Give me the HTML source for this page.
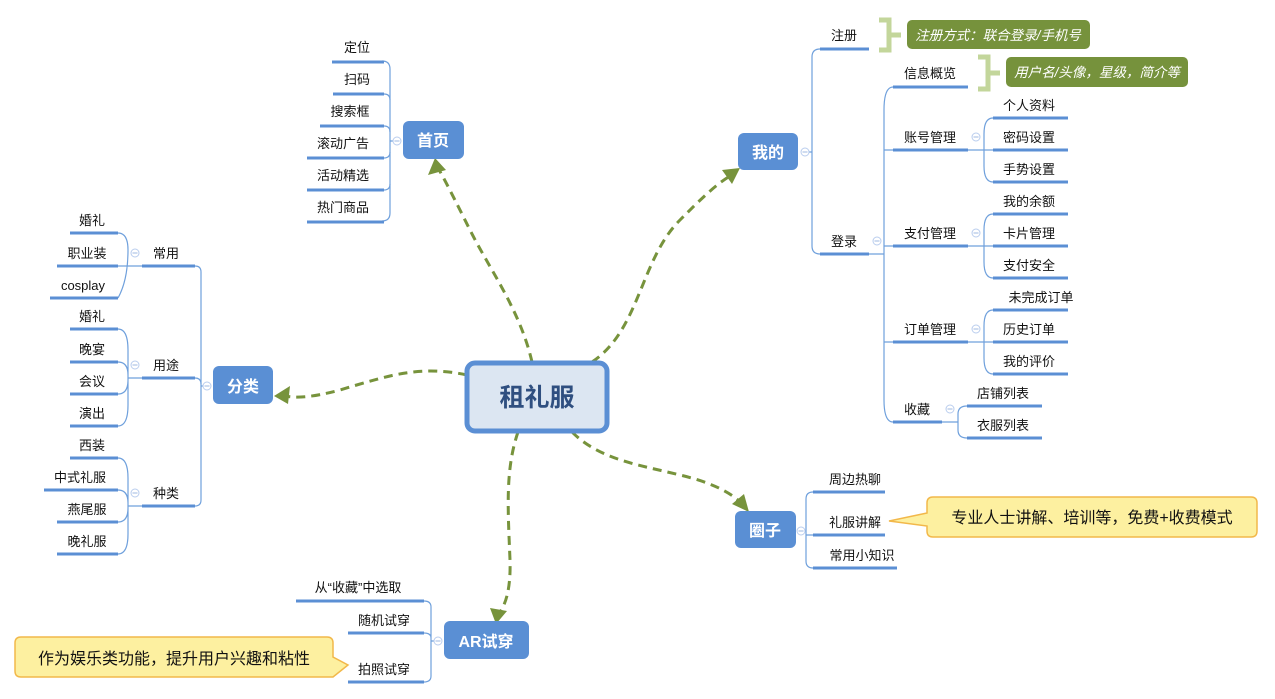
<!DOCTYPE html>
<html><head><meta charset="utf-8"><style>
html,body{margin:0;padding:0;background:#fff;}
svg{display:block;font-family:"Liberation Sans","Noto Sans CJK SC",sans-serif;}
.u{stroke:#5b8fd4;stroke-width:3;fill:none}
.c{stroke:#6fa0dc;stroke-width:1.2;fill:none}
.t{font-size:13px;fill:#111;text-anchor:middle}
.d{stroke:#77933c;stroke-width:3;fill:none;stroke-dasharray:9,6}
.ar{fill:#77933c}
.b{fill:#5a8fd4}
.bt{font-size:16px;font-weight:bold;fill:#fff;text-anchor:middle}
.o{fill:#fff;stroke:#b9cdee;stroke-width:1}
.m{stroke:#9fb8e0;stroke-width:1}
</style></head><body>
<svg width="1275" height="699" viewBox="0 0 1275 699">
<defs><g id="mn"><circle class="o" cx="0" cy="0" r="4"/><line class="m" x1="-2.5" y1="0" x2="2.5" y2="0"/></g></defs>
<!-- dashed connectors -->
<path class="d" d="M532,362 C520,310 490,270 470,230 C455,200 445,180 438,168"/>
<polygon class="ar" points="435,158 428,175 446,170"/>
<path class="d" d="M592,362 C640,330 640,260 680,220 C700,200 715,185 730,176"/>
<polygon class="ar" points="740,168 722,170 732,184"/>
<path class="d" d="M467,375 C420,365 390,375 340,390 C310,398 295,398 285,396"/>
<polygon class="ar" points="274,396 290,386 288,404"/>
<path class="d" d="M518,432 C505,470 508,510 510,560 C511,590 505,605 500,612"/>
<polygon class="ar" points="496,624 490,608 507,611"/>
<path class="d" d="M572,432 C600,460 640,465 680,475 C710,482 730,492 740,502"/>
<polygon class="ar" points="749,512 732,504 744,494"/>

<!-- central -->
<rect x="467" y="363" width="140" height="68" rx="8" fill="#dce6f2" stroke="#5b8fd4" stroke-width="5"/>
<text x="537" y="406" font-size="25" font-weight="bold" fill="#2f4f80" text-anchor="middle">租礼服</text>

<!-- 首页 -->
<rect class="b" x="403" y="121" width="61" height="38" rx="6"/>
<text class="bt" x="433" y="146">首页</text>
<path class="c" d="M382,61 Q390,61 390,69 L390,213 Q390,221 382,221 M390,141 L393,141"/>
<use href="#mn" x="397" y="141"/>
<line class="u" x1="332" y1="62" x2="384" y2="62"/><text class="t" x="357" y="52">定位</text>
<line class="u" x1="333" y1="94" x2="384" y2="94"/><text class="t" x="357" y="84">扫码</text>
<line class="u" x1="320" y1="126" x2="384" y2="126"/><text class="t" x="350" y="116">搜索框</text>
<line class="u" x1="307" y1="158" x2="384" y2="158"/><text class="t" x="343" y="148">滚动广告</text>
<line class="u" x1="307" y1="190" x2="384" y2="190"/><text class="t" x="343" y="180">活动精选</text>
<line class="u" x1="307" y1="222" x2="384" y2="222"/><text class="t" x="343" y="212">热门商品</text>
<path class="c" d="M384,94 Q390,94 390,100 M384,126 Q390,126 390,132 M384,158 Q390,158 390,152 M384,190 Q390,190 390,184"/>

<!-- 分类 -->
<rect class="b" x="213" y="366" width="60" height="38" rx="6"/>
<text class="bt" x="243" y="392">分类</text>
<path class="c" d="M195,266 Q201,266 201,272 L201,500 Q201,506 195,506 M201,386 L203,386"/>
<use href="#mn" x="207" y="386"/>
<line class="u" x1="142" y1="266" x2="195" y2="266"/><text class="t" x="166" y="258">常用</text>
<line class="u" x1="142" y1="378" x2="195" y2="378"/><text class="t" x="166" y="370">用途</text>
<path class="c" d="M195,378 Q201,378 201,384"/>
<line class="u" x1="142" y1="506" x2="195" y2="506"/><text class="t" x="166" y="498">种类</text>
<use href="#mn" x="135" y="253"/><use href="#mn" x="135" y="365"/><use href="#mn" x="135" y="493"/>
<path class="c" d="M118,233 Q128,233 128,250 Q128,280 118,298 M118,266 L142,266"/>
<path class="c" d="M118,329 Q128,329 128,350 L128,405 Q128,426 118,426 M118,362 Q128,362 128,375 M118,394 Q128,394 128,380 M128,378 L142,378"/>
<path class="c" d="M118,458 Q128,458 128,478 L128,534 Q128,554 118,554 M118,490 Q128,490 128,503 M118,522 Q128,522 128,508 M128,506 L142,506"/>
<line class="u" x1="70" y1="233" x2="118" y2="233"/><text class="t" x="92" y="225">婚礼</text>
<line class="u" x1="57" y1="266" x2="118" y2="266"/><text class="t" x="87" y="258">职业装</text>
<line class="u" x1="50" y1="298" x2="118" y2="298"/><text class="t" x="83" y="290">cosplay</text>
<line class="u" x1="70" y1="329" x2="118" y2="329"/><text class="t" x="92" y="321">婚礼</text>
<line class="u" x1="70" y1="362" x2="118" y2="362"/><text class="t" x="92" y="354">晚宴</text>
<line class="u" x1="70" y1="394" x2="118" y2="394"/><text class="t" x="92" y="386">会议</text>
<line class="u" x1="70" y1="426" x2="118" y2="426"/><text class="t" x="92" y="418">演出</text>
<line class="u" x1="70" y1="458" x2="118" y2="458"/><text class="t" x="92" y="450">西装</text>
<line class="u" x1="44" y1="490" x2="118" y2="490"/><text class="t" x="80" y="482">中式礼服</text>
<line class="u" x1="57" y1="522" x2="118" y2="522"/><text class="t" x="87" y="514">燕尾服</text>
<line class="u" x1="57" y1="554" x2="118" y2="554"/><text class="t" x="87" y="546">晚礼服</text>

<!-- 我的 -->
<rect class="b" x="738" y="133" width="60" height="37" rx="6"/>
<text class="bt" x="768" y="158">我的</text>
<path class="c" d="M820,49 Q812,49 812,57 L812,246 Q812,254 820,254 M809,152 L812,152"/>
<use href="#mn" x="805" y="152"/>
<line class="u" x1="820" y1="49" x2="869" y2="49"/><text class="t" x="844" y="40">注册</text>
<line class="u" x1="820" y1="254" x2="869" y2="254"/><text class="t" x="844" y="246">登录</text>
<path class="c" d="M893,87 Q884,87 884,110 L884,400 Q884,422 893,422 M869,254 L884,254 M884,150 Q884,150 893,150 M884,246 L893,246 M884,342 L893,342"/>
<use href="#mn" x="877" y="241"/>
<line class="u" x1="893" y1="87" x2="968" y2="87"/><text class="t" x="930" y="78">信息概览</text>
<line class="u" x1="893" y1="150" x2="968" y2="150"/><text class="t" x="930" y="142">账号管理</text>
<line class="u" x1="893" y1="246" x2="968" y2="246"/><text class="t" x="930" y="238">支付管理</text>
<line class="u" x1="893" y1="342" x2="968" y2="342"/><text class="t" x="930" y="334">订单管理</text>
<line class="u" x1="893" y1="422" x2="942" y2="422"/><text class="t" x="917" y="414">收藏</text>
<use href="#mn" x="976" y="137"/><use href="#mn" x="976" y="233"/><use href="#mn" x="976" y="329"/><use href="#mn" x="950" y="409"/>
<path class="c" d="M993,118 Q984,118 984,134 L984,166 Q984,182 993,182 M968,150 L993,150"/>
<path class="c" d="M993,214 Q984,214 984,230 L984,262 Q984,278 993,278 M968,246 L993,246"/>
<path class="c" d="M993,310 Q984,310 984,326 L984,358 Q984,374 993,374 M968,342 L993,342"/>
<path class="c" d="M967,406 Q958,406 958,414 L958,430 Q958,438 967,438 M942,422 L958,422"/>
<line class="u" x1="993" y1="118" x2="1068" y2="118"/><text class="t" x="1029" y="110">个人资料</text>
<line class="u" x1="993" y1="150" x2="1068" y2="150"/><text class="t" x="1029" y="142">密码设置</text>
<line class="u" x1="993" y1="182" x2="1068" y2="182"/><text class="t" x="1029" y="174">手势设置</text>
<line class="u" x1="993" y1="214" x2="1068" y2="214"/><text class="t" x="1029" y="206">我的余额</text>
<line class="u" x1="993" y1="246" x2="1068" y2="246"/><text class="t" x="1029" y="238">卡片管理</text>
<line class="u" x1="993" y1="278" x2="1068" y2="278"/><text class="t" x="1029" y="270">支付安全</text>
<line class="u" x1="993" y1="310" x2="1068" y2="310"/><text class="t" x="1041" y="302">未完成订单</text>
<line class="u" x1="993" y1="342" x2="1068" y2="342"/><text class="t" x="1029" y="334">历史订单</text>
<line class="u" x1="993" y1="374" x2="1068" y2="374"/><text class="t" x="1029" y="366">我的评价</text>
<line class="u" x1="967" y1="406" x2="1042" y2="406"/><text class="t" x="1003" y="398">店铺列表</text>
<line class="u" x1="967" y1="438" x2="1042" y2="438"/><text class="t" x="1003" y="430">衣服列表</text>

<!-- green callouts -->
<path d="M879,20 L889,20 L889,50 L879,50 M889,35 L901,35" stroke="#c3d69b" stroke-width="5" fill="none"/>
<rect x="907" y="20" width="183" height="29" rx="5" fill="#76923c"/>
<text x="998" y="40" font-size="13.5" font-style="italic" fill="#fff" text-anchor="middle">注册方式：联合登录/手机号</text>
<path d="M978,57 L988,57 L988,89 L978,89 M988,73 L1000,73" stroke="#c3d69b" stroke-width="5" fill="none"/>
<rect x="1006" y="57" width="182" height="30" rx="5" fill="#76923c"/>
<text x="1097" y="77" font-size="13.5" font-style="italic" fill="#fff" text-anchor="middle">用户名/头像，星级，简介等</text>

<!-- 圈子 -->
<rect class="b" x="735" y="511" width="61" height="37" rx="6"/>
<text class="bt" x="765" y="536">圈子</text>
<path class="c" d="M813,492 Q806,492 806,499 L806,561 Q806,568 813,568 M805,531 L806,531 M806,535 L813,535"/>
<use href="#mn" x="801" y="531"/>
<line class="u" x1="813" y1="492" x2="885" y2="492"/><text class="t" x="855" y="484">周边热聊</text>
<line class="u" x1="813" y1="535" x2="885" y2="535"/><text class="t" x="855" y="527">礼服讲解</text>
<line class="u" x1="813" y1="568" x2="897" y2="568"/><text class="t" x="862" y="560">常用小知识</text>
<path d="M933,497 L1251,497 Q1257,497 1257,503 L1257,531 Q1257,537 1251,537 L933,537 Q927,537 927,531 L927,526 L889,521 L927,513 L927,503 Q927,497 933,497 Z" fill="#fdf0a0" stroke="#f2b84a" stroke-width="1.5"/>
<text x="1092" y="523" font-size="16" fill="#111" text-anchor="middle">专业人士讲解、培训等，免费+收费模式</text>

<!-- AR试穿 -->
<rect class="b" x="444" y="621" width="85" height="38" rx="6"/>
<text class="bt" x="486" y="647">AR试穿</text>
<path class="c" d="M424,601 Q431,601 431,607 L431,676 Q431,682 424,682 M424,633 Q431,633 431,638 M431,641 L434,641"/>
<use href="#mn" x="438" y="641"/>
<line class="u" x1="296" y1="601" x2="424" y2="601"/><text class="t" x="358" y="592">从“收藏”中选取</text>
<line class="u" x1="348" y1="633" x2="424" y2="633"/><text class="t" x="384" y="625">随机试穿</text>
<line class="u" x1="348" y1="682" x2="424" y2="682"/><text class="t" x="384" y="674">拍照试穿</text>
<path d="M21,637 L327,637 Q333,637 333,643 L333,657 L348,665 L333,677 L21,677 Q15,677 15,671 L15,643 Q15,637 21,637 Z" fill="#fdf0a0" stroke="#f2b84a" stroke-width="1.5"/>
<text x="174" y="664" font-size="16" fill="#111" text-anchor="middle">作为娱乐类功能，提升用户兴趣和粘性</text>
</svg>
</body></html>
